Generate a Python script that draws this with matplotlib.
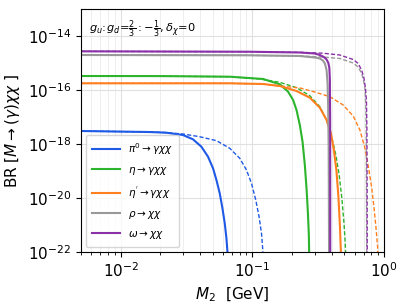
import numpy as np
import matplotlib.pyplot as plt

# values (M2 in GeV, BR)
pi0_x = [0.005, 0.01662, 0.02226, 0.02977, 0.03546, 0.04108, 0.04612, 0.05034, 0.05343,
         0.05661, 0.05935, 0.06178, 0.06364, 0.06476, 0.0672]
pi0_y = [3.03e-18, 2.78e-18, 2.62e-18, 2.15e-18, 1.49e-18, 7.94e-19, 3.39e-19, 1.26e-19, 4.64e-20,
         1.49e-20, 4.15e-21, 1.16e-21, 3.22e-22, 1.03e-22, 1e-24]
pi0_dash_x = [0.005, 0.01662, 0.02226, 0.02977, 0.03989, 0.05343, 0.06745, 0.08035, 0.09035,
              0.09861, 0.1063, 0.1126, 0.1175, 0.1202, 0.1225]
pi0_dash_y = [3.03e-18, 2.78e-18, 2.65e-18, 2.35e-18, 1.86e-18, 1.33e-18, 6.93e-19, 2.95e-19, 1.09e-19,
              3.50e-20, 8.43e-21, 2.03e-21, 4.93e-22, 1.19e-22, 1e-24]

eta_x = [0.005, 0.02, 0.06745, 0.1208, 0.1619, 0.1872, 0.2043, 0.2168, 0.2297, 0.2409,
         0.2507, 0.2583, 0.2643, 0.2690, 0.2704, 0.274]
eta_y = [3.30e-16, 3.28e-16, 3.11e-16, 2.56e-16, 1.63e-16, 8.65e-17, 4.26e-17, 1.82e-17, 5.05e-18, 1.22e-18,
         1.67e-19, 2.29e-20, 3.11e-21, 4.26e-22, 1.03e-22, 1e-24]
eta_dash_x = [0.005, 0.02, 0.06745, 0.1140, 0.1619, 0.2168, 0.2737, 0.3261, 0.3667, 0.4003,
              0.4315, 0.4572, 0.4793, 0.4963, 0.5077, 0.5113, 0.515]
eta_dash_y = [3.30e-16, 3.28e-16, 3.11e-16, 2.56e-16, 1.93e-16, 1.22e-16, 6.15e-17, 2.41e-17, 7.74e-18, 1.86e-18,
              3.91e-19, 7.11e-20, 9.75e-21, 1.33e-21, 2.41e-22, 1.03e-22, 1e-24]

etap_x = [0.005, 0.06745, 0.1208, 0.1619, 0.2168, 0.2737, 0.3261, 0.3667, 0.3954, 0.4166,
          0.4352, 0.4508, 0.4628, 0.4710, 0.479]
etap_y = [1.77e-16, 1.77e-16, 1.67e-16, 1.41e-16, 9.18e-17, 5.19e-17, 2.21e-17, 7.74e-18, 2.56e-18, 6.0e-19,
          1.09e-19, 1.19e-20, 1e-21, 1.03e-22, 1e-24]
etap_dash_x = [0.005, 0.06745, 0.1208, 0.1619, 0.2297, 0.2987, 0.3885, 0.4903, 0.5842, 0.6567,
               0.7171, 0.7623, 0.8063, 0.8395, 0.8694, 0.8956, 0.905]
etap_dash_y = [1.77e-16, 1.77e-16, 1.67e-16, 1.41e-16, 1.19e-16, 8.43e-17, 5.65e-17, 2.78e-17, 1.09e-17, 3.30e-18,
               7.11e-19, 1.41e-19, 2.56e-20, 4.64e-21, 8.43e-22, 1.53e-22, 1e-24]

rho_x = [0.005, 0.09572, 0.2297, 0.2987, 0.3261, 0.3437, 0.3559, 0.3667, 0.3732, 0.3771, 0.3804, 0.3831, 0.3875]
rho_y = [1.98e-15, 1.93e-15, 1.82e-15, 1.60e-15, 1.47e-15, 1.24e-15, 9.75e-16, 5.50e-16, 1.77e-16, 2.41e-17,
         6.0e-19, 1e-22, 1e-24]
rho_dash_x = [0.005, 0.09572, 0.2297, 0.3437, 0.4628, 0.5842, 0.6375, 0.6766, 0.6983, 0.7171, 0.7272,
              0.7336, 0.7375, 0.7401, 0.745]
rho_dash_y = [1.98e-15, 1.93e-15, 1.82e-15, 1.67e-15, 1.47e-15, 1.0e-15, 7.11e-16, 4.15e-16, 2.35e-16, 1.19e-16,
              3.30e-17, 3.30e-18, 8.43e-21, 1e-22, 1e-24]

omega_x = [0.005, 0.09572, 0.2297, 0.2987, 0.3261, 0.3497, 0.3667, 0.3784, 0.3851, 0.3885, 0.3905, 0.3913]
omega_y = [2.71e-15, 2.62e-15, 2.45e-15, 2.25e-15, 1.98e-15, 1.67e-15, 1.35e-15, 1.0e-15, 6.53e-16, 2.35e-16,
           7.74e-18, 1e-24]
omega_dash_x = [0.005, 0.09572, 0.2297, 0.3437, 0.4628, 0.5842, 0.6375, 0.6766, 0.7046, 0.7234, 0.7362,
                0.7427, 0.7453, 0.7466, 0.748]
omega_dash_y = [2.71e-15, 2.62e-15, 2.49e-15, 2.31e-15, 1.98e-15, 1.35e-15, 9.58e-16, 5.50e-16, 2.78e-16, 1.19e-16,
                4.26e-17, 3.30e-18, 1.98e-20, 1e-22, 1e-24]

labels = [r"$\pi^0\to\gamma\chi\chi$", r"$\eta\to\gamma\chi\chi$", r"$\eta^{'}\to\gamma\chi\chi$",
          r"$\rho\to\chi\chi$", r"$\omega\to\chi\chi$"]
colors = ["#1f5ae6", "#2cb52c", "#ff7f1e", "#999999", "#8a30a8"]

solid = [(pi0_x, pi0_y), (eta_x, eta_y), (etap_x, etap_y), (rho_x, rho_y), (omega_x, omega_y)]
dashed = [(pi0_dash_x, pi0_dash_y), (eta_dash_x, eta_dash_y), (etap_dash_x, etap_dash_y),
          (rho_dash_x, rho_dash_y), (omega_dash_x, omega_dash_y)]

fig = plt.figure(figsize=(4.08, 3.06), dpi=100)
ax = fig.add_axes([0.1985, 0.1765, 0.7425, 0.794])

for (x, y), c in zip(dashed, colors):
    ax.plot(x, y, color=c, lw=1.0, ls=(0, (3, 1.5)))
for (x, y), c, lab in zip(solid, colors, labels):
    ax.plot(x, y, color=c, lw=1.5, label=lab)

ax.set_xscale("log")
ax.set_yscale("log")
ax.set_xlim(0.005, 1)
ax.set_ylim(1e-22, 1e-13)
ax.set_yticks([1e-22, 1e-20, 1e-18, 1e-16, 1e-14])
ax.yaxis.set_minor_locator(plt.NullLocator())
ax.tick_params(labelsize=11)

ax.grid(which="major", color="0.88", lw=0.8)
ax.grid(which="minor", axis="x", color="0.92", lw=0.6)

ax.set_xlabel(r"$M_2$  [GeV]", fontsize=11)
ax.set_ylabel(r"BR [$M\to(\gamma)\chi\chi$ ]", fontsize=11)
ax.text(0.025, 0.96, r"$g_u\!:\!g_d\!=\!\frac{2}{3}:-\frac{1}{3},\delta_\chi\!=\!0$",
        transform=ax.transAxes, fontsize=8.2, va="top")
ax.legend(loc="lower left", fontsize=7.5, handlelength=2.6, labelspacing=0.75, borderpad=0.6)

fig.savefig("out.png", dpi=100)
